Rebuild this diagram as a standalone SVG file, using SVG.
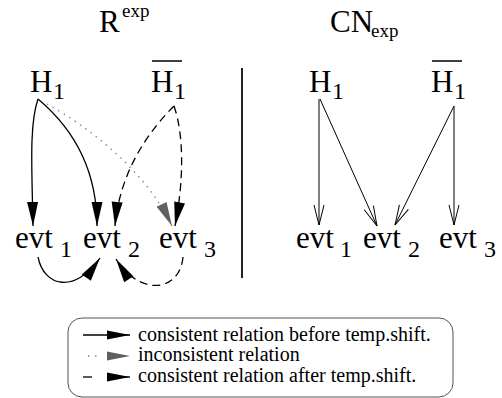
<svg xmlns="http://www.w3.org/2000/svg" width="502" height="398" viewBox="0 0 502 398">
<style>
text{font-family:"Liberation Serif","Times New Roman",serif;fill:#000}
.big{font-size:31px}
.sub{font-size:24px}
.sup{font-size:19px}
.leg{font-size:20px}
.sol{fill:none;stroke:#000;stroke-width:1.3}
.dash{fill:none;stroke:#000;stroke-width:1.3;stroke-dasharray:8,5}
.dot{fill:none;stroke:#8a8a8a;stroke-width:1.4;stroke-dasharray:1.5,5}
.thin{fill:none;stroke:#000;stroke-width:1}
</style>
<defs>
<marker id="fb" markerUnits="userSpaceOnUse" markerWidth="30" markerHeight="16" viewBox="-25 -8 30 16" refX="0" refY="0" orient="auto">
<path d="M0,0 L-24,-5.5 L-24,5.5 Z" fill="#000"/>
</marker>
<marker id="fg" markerUnits="userSpaceOnUse" markerWidth="30" markerHeight="16" viewBox="-25 -8 30 16" refX="0" refY="0" orient="auto">
<path d="M0,0 L-24,-5.5 L-24,5.5 Z" fill="#606060"/>
</marker>
<marker id="lb" markerUnits="userSpaceOnUse" markerWidth="30" markerHeight="16" viewBox="-25 -8 30 16" refX="0" refY="0" orient="auto">
<path d="M0,0 L-23,-4.5 L-23,4.5 Z" fill="#000"/>
</marker>
<marker id="ov" markerUnits="userSpaceOnUse" markerWidth="30" markerHeight="16" viewBox="-25 -8 30 16" refX="0" refY="0" orient="auto">
<path d="M-20,-5 L0,0 L-20,5" fill="none" stroke="#000" stroke-width="1"/>
</marker>
</defs>

<g id="titles">
<text class="big" x="99" y="32">R</text><text class="sup" x="122" y="17">exp</text>
<text class="big" x="330" y="32">CN</text><text class="sup" x="371" y="37">exp</text>
</g>

<g id="divider"><line x1="242" y1="68" x2="242" y2="278" stroke="#222" stroke-width="2"/></g>

<g id="L-H1"><text class="big" x="30" y="92">H</text><text class="sub" x="53" y="99">1</text></g>
<g id="L-H1bar"><line x1="152" y1="61" x2="182" y2="61" stroke="#000" stroke-width="1.5"/><text class="big" x="151" y="92">H</text><text class="sub" x="174" y="99">1</text></g>
<g id="L-evt1"><text class="big" x="15" y="248">evt</text><text class="sub" x="60" y="257">1</text></g>
<g id="L-evt2"><text class="big" x="83" y="248">evt</text><text class="sub" x="128" y="257">2</text></g>
<g id="L-evt3"><text class="big" x="159" y="248">evt</text><text class="sub" x="204" y="257">3</text></g>

<g id="R-H1"><text class="big" x="309" y="92">H</text><text class="sub" x="332" y="99">1</text></g>
<g id="R-H1bar"><line x1="432" y1="61" x2="462" y2="61" stroke="#000" stroke-width="1.5"/><text class="big" x="431" y="92">H</text><text class="sub" x="454" y="99">1</text></g>
<g id="R-evt1"><text class="big" x="296" y="248">evt</text><text class="sub" x="340" y="257">1</text></g>
<g id="R-evt2"><text class="big" x="363" y="248">evt</text><text class="sub" x="408" y="257">2</text></g>
<g id="R-evt3"><text class="big" x="439" y="248">evt</text><text class="sub" x="484" y="257">3</text></g>

<g id="connectors">
<path class="sol" d="M38,99 C29,125 32,170 33,226" marker-end="url(#fb)"/>
<path class="sol" d="M38,99 C75,130 97,170 97,226" marker-end="url(#fb)"/>
<path class="dot" d="M47,104 C90,128 145,170 172,226" marker-end="url(#fg)"/>
<path class="dash" d="M174,106 C150,130 120,170 115,226" marker-end="url(#fb)"/>
<path class="dash" d="M174,106 C184,135 184,180 175,226" marker-end="url(#fb)"/>
<path class="sol" d="M38,257 C44,287 75,294 100,258" marker-end="url(#fb)"/>
<path class="dash" d="M183,257 C180,292 140,297 116,259" marker-end="url(#fb)"/>

<path class="thin" d="M319,99 L319,225" marker-end="url(#ov)"/>
<path class="thin" d="M320,99 L377,226" marker-end="url(#ov)"/>
<path class="thin" d="M454,106 L395,225" marker-end="url(#ov)"/>
<path class="thin" d="M454,106 L454,225" marker-end="url(#ov)"/>
</g>

<g id="legend">
<rect x="68" y="318" width="385" height="79" rx="14" ry="14" fill="none" stroke="#555" stroke-width="1"/>
<path class="sol" d="M83,335 L130,335" marker-end="url(#lb)"/>
<path class="dot" d="M88,356 L97,356" style="stroke-dasharray:1.5,5.5"/>
<path d="M130,356 L107,351.5 L107,360.5 Z" fill="#606060"/>
<path class="sol" d="M83,377 L92,377"/>
<path class="sol" d="M108,377 L130,377" marker-end="url(#lb)"/>
<text class="leg" x="138" y="341">consistent relation before temp.shift.</text>
<text class="leg" x="138" y="361">inconsistent relation</text>
<text class="leg" x="138" y="382">consistent relation after temp.shift.</text>
</g>
</svg>
